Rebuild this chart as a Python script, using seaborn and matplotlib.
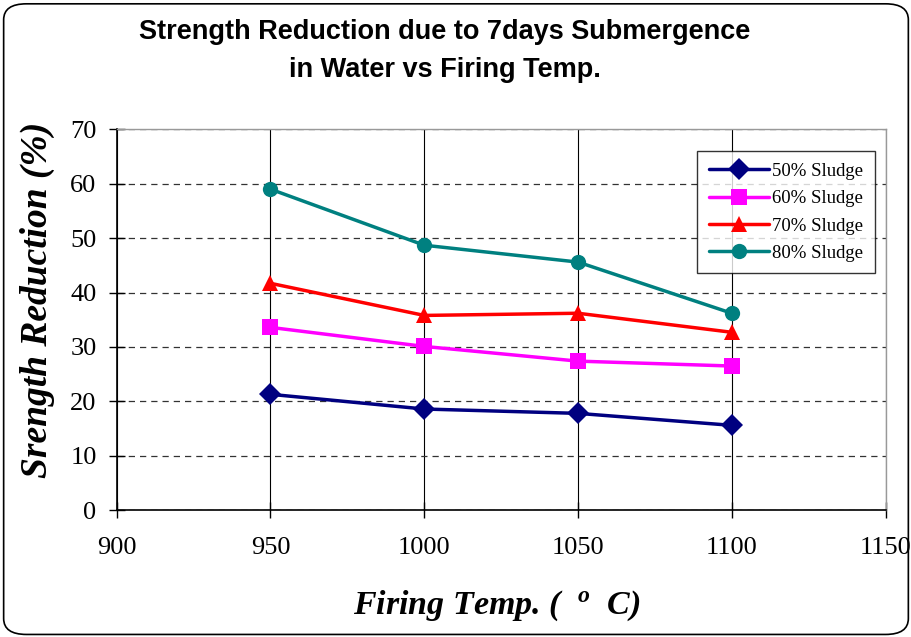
import matplotlib
matplotlib.use("Agg")
import matplotlib.pyplot as plt
import seaborn as sns
import pandas as pd
from matplotlib.patches import FancyBboxPatch

# values
temps = [950, 1000, 1050, 1100]
sludge_50 = [21.3, 18.6, 17.8, 15.6]
sludge_60 = [33.6, 30.1, 27.4, 26.5]
sludge_70 = [41.7, 35.8, 36.2, 32.7]
sludge_80 = [59.0, 48.7, 45.6, 36.2]
series_names = ["50% Sludge", "60% Sludge", "70% Sludge", "80% Sludge"]

rows = []
for name, vals in zip(series_names, [sludge_50, sludge_60, sludge_70, sludge_80]):
    for t, v in zip(temps, vals):
        rows.append({"temp": t, "reduction": v, "series": name})
df = pd.DataFrame(rows)

sns.set_theme(style="white")
plt.rcParams["font.family"] = ["Liberation Serif", "DejaVu Serif"]
plt.rcParams["text.color"] = "black"
plt.rcParams["axes.labelcolor"] = "black"
plt.rcParams["mathtext.fontset"] = "custom"
plt.rcParams["mathtext.it"] = "Liberation Serif:italic:bold"
plt.rcParams["mathtext.rm"] = "Liberation Serif:bold"

colors = {"50% Sludge": "#000080", "60% Sludge": "#ff00ff",
          "70% Sludge": "#ff0000", "80% Sludge": "#008080"}
markers = {"50% Sludge": "D", "60% Sludge": "s",
           "70% Sludge": "^", "80% Sludge": "o"}

fig = plt.figure(figsize=(9.12, 6.37), dpi=100)
ax = fig.add_axes([0.128, 0.199, 0.843, 0.598])

sns.lineplot(data=df, x="temp", y="reduction", hue="series", style="series",
             palette=colors, markers=markers, dashes=False, linewidth=2.5,
             markersize=11, markeredgewidth=0, ax=ax)

ax.set_xlim(900, 1150)
ax.set_ylim(0, 70)
ax.set_xticks(range(900, 1151, 50))
ax.set_yticks(range(0, 71, 10))
ax.tick_params(axis="both", labelsize=19, colors="black", direction="inout",
               length=11, width=1, left=True, bottom=True)
ax.tick_params(axis="y", pad=9)
ax.tick_params(axis="x", pad=14)
ax.yaxis.grid(True, linestyle=(0, (5, 4)), color="#333333", linewidth=0.9)
ax.xaxis.grid(True, linestyle="-", color="black", linewidth=0.8)
ax.set_axisbelow(True)
for side in ["left", "bottom"]:
    ax.spines[side].set_color("black")
    ax.spines[side].set_linewidth(1.2)
for side in ["top", "right"]:
    ax.spines[side].set_color("#999999")
    ax.spines[side].set_linewidth(1)

ax.set_xlabel("Firing Temp. (  $^{o}$  C)", fontsize=24.5, fontweight="bold",
              fontstyle="italic", va="center")
ax.set_ylabel("Srength Reduction (%)", fontsize=27, fontweight="bold",
              fontstyle="italic", va="center")
ax.xaxis.set_label_coords(0.494, -0.25)
ax.yaxis.set_label_coords(-0.103, 0.551)

leg = ax.legend(title=None, loc="upper right", bbox_to_anchor=(0.998, 0.967),
                fontsize=13.5, frameon=True, fancybox=False, borderpad=0.6,
                labelspacing=0.55, handlelength=3.2, handletextpad=0.2)
leg.get_frame().set_edgecolor("black")
leg.get_frame().set_linewidth(1)

title_font = dict(ha="center", va="center", fontsize=19.5, fontweight="bold",
                  family=["Liberation Sans", "DejaVu Sans"], color="black")
fig.text(0.488, 0.95, "Strength Reduction due to 7days Submergence", **title_font)
fig.text(0.488, 0.89, "in Water vs Firing Temp.", **title_font)

border = FancyBboxPatch((0.004, 0.004), 0.992, 0.99,
                        boxstyle="round,pad=0,rounding_size=0.025",
                        transform=fig.transFigure, fill=False,
                        edgecolor="black", linewidth=1.2)
fig.patches.append(border)

fig.savefig("out.png", dpi=100)
